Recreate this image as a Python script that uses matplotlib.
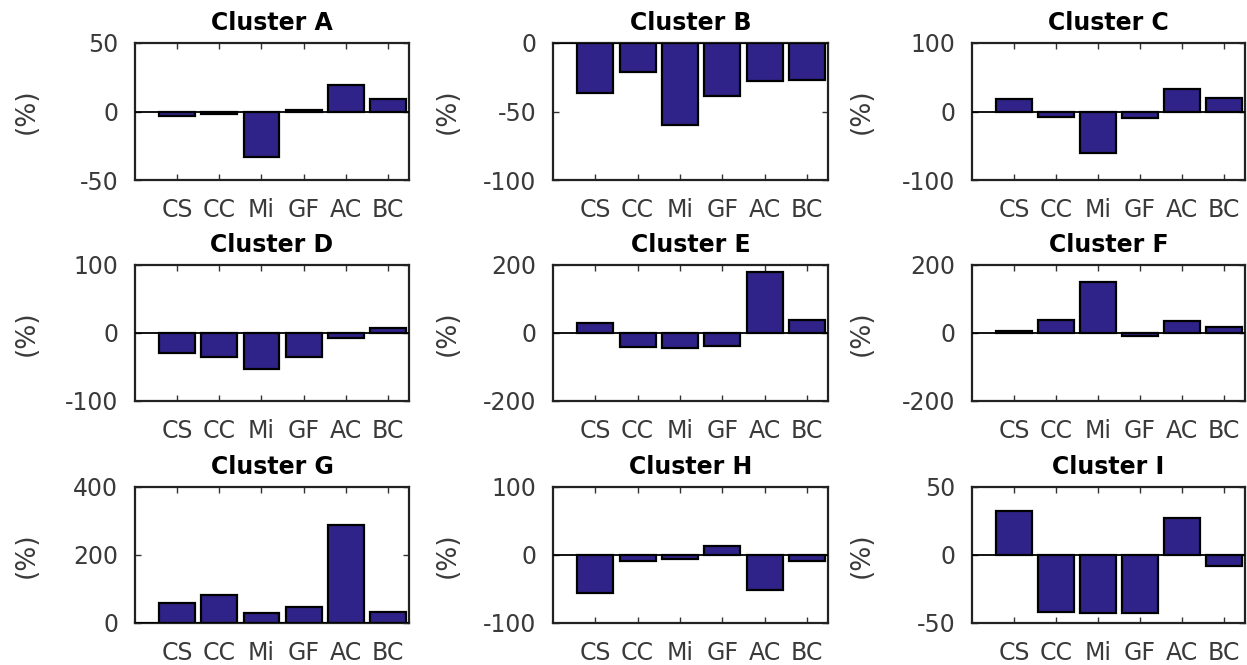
import matplotlib
matplotlib.use("Agg")
import matplotlib.pyplot as plt
import numpy as np

plt.rcParams["axes.unicode_minus"] = False

categories = ["CS", "CC", "Mi", "GF", "AC", "BC"]
titles = ["Cluster A", "Cluster B", "Cluster C",
          "Cluster D", "Cluster E", "Cluster F",
          "Cluster G", "Cluster H", "Cluster I"]

cluster_a = [-3, -2, -33, 1, 19, 9]
cluster_b = [-36.5, -21, -60, -38.5, -27.5, -27]
cluster_c = [18, -8, -61, -10, 33, 19.5]
cluster_d = [-29, -35, -53, -35, -8, 8]
cluster_e = [29, -41, -44, -39, 178, 39]
cluster_f = [5, 37, 150, -8, 34, 19]
cluster_g = [59, 83, 30, 47, 287, 32]
cluster_h = [-56, -9, -6, 13, -52, -9]
cluster_i = [32, -42, -43, -43, 27, -8]

y_limits = [(-50, 50), (-100, 0), (-100, 100),
            (-100, 100), (-200, 200), (-200, 200),
            (0, 400), (-100, 100), (-50, 50)]
y_ticks = [[-50, 0, 50], [-100, -50, 0], [-100, 0, 100],
           [-100, 0, 100], [-200, 0, 200], [-200, 0, 200],
           [0, 200, 400], [-100, 0, 100], [-50, 0, 50]]

series = [cluster_a, cluster_b, cluster_c, cluster_d, cluster_e,
          cluster_f, cluster_g, cluster_h, cluster_i]

W, H = 1247, 665
fig = plt.figure(figsize=(W / 100, H / 100), dpi=100)

col_x = [(135, 409), (553, 828), (972, 1245)]
row_y = [(43, 180), (265, 401), (487, 623)]
ylabel_x = [27, 448, 862]

bar_color = "#2f2389"
font = "DejaVu Sans"
text_color = "#3a3a3a"

for k in range(9):
    r, c = divmod(k, 3)
    x0, x1 = col_x[c]
    y0, y1 = row_y[r]
    ax = fig.add_axes([x0 / W, 1 - y1 / H, (x1 - x0) / W, (y1 - y0) / H])
    pos = np.arange(1, len(categories) + 1)
    ax.bar(pos, series[k], width=0.85, color=bar_color, edgecolor="black",
           linewidth=1.6, zorder=2)
    ax.axhline(0, color="black", linewidth=1.3, zorder=3)
    ax.set_xlim(0, 6.5)
    ax.set_ylim(*y_limits[k])
    ax.set_yticks(y_ticks[k])
    ax.set_xticks(pos)
    ax.set_xticklabels(categories, fontsize=17, family=font, color=text_color)
    ax.tick_params(axis="y", labelsize=17, labelcolor=text_color)
    ax.tick_params(direction="in", top=True, right=True, length=4, width=1,
                   color="#333333")
    ax.tick_params(axis="x", pad=13)
    ax.tick_params(axis="y", pad=12)
    for lab in ax.get_yticklabels():
        lab.set_family(font)
    for s in ax.spines.values():
        s.set_linewidth(1.6)
        s.set_color("#222222")
    ax.set_title(titles[k], fontsize=17, fontweight="bold", family=font, pad=9)
    ax.set_ylabel("(%)", fontsize=19, family=font, color=text_color, va="center")
    ax.yaxis.set_label_coords((ylabel_x[c] - x0) / (x1 - x0), 0.5)

fig.savefig("out.png", dpi=100)
